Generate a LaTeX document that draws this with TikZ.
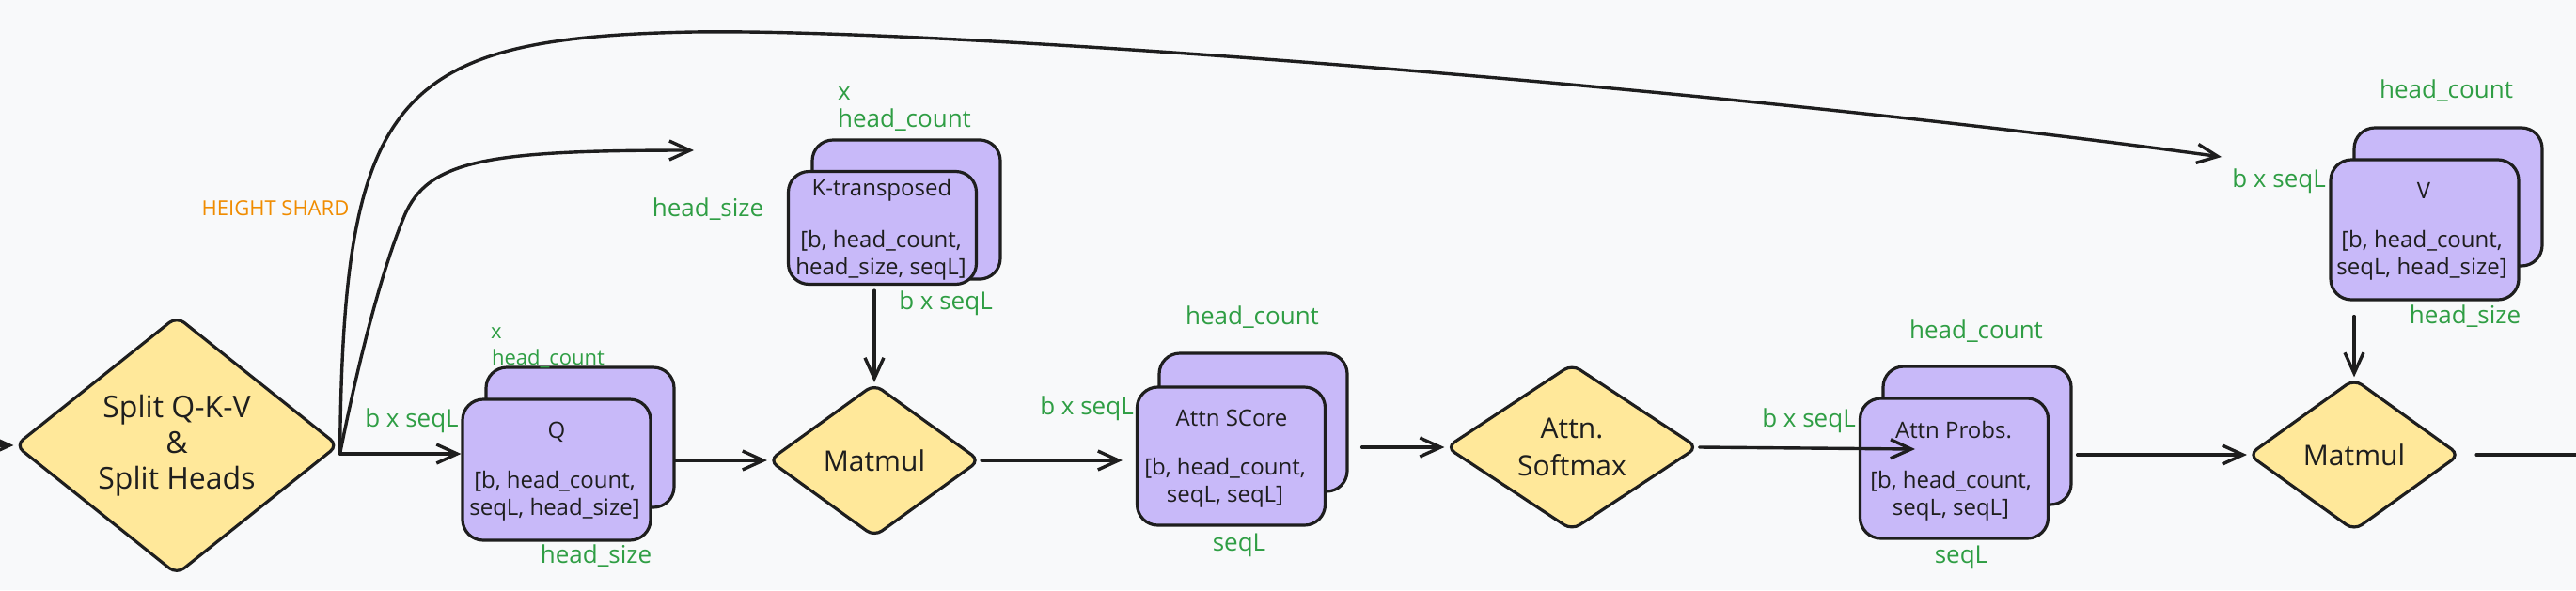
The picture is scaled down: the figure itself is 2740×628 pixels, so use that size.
\documentclass[tikz,border=0pt]{standalone}
\usepackage{fontspec}
\setmainfont{Open Sans}
\usetikzlibrary{shapes.geometric,arrows.meta}
\definecolor{bgc}{HTML}{F8F9FA}
\definecolor{dfill}{HTML}{FFE89A}
\definecolor{bfill}{HTML}{C8B9F9}
\definecolor{lgreen}{HTML}{2F9E44}
\definecolor{lorange}{HTML}{F08C00}
\definecolor{ink}{HTML}{1E1E1E}
\begin{document}
\begin{tikzpicture}[x=0.5pt,y=-0.5pt,
  decision/.style={diamond, draw=ink, fill=dfill, line width=1.6pt, inner sep=0pt,
    rounded corners=5pt, align=center, text=ink},
  backbox/.style={rectangle, draw=ink, fill=bfill, line width=1.6pt, rounded corners=11pt,
    inner sep=0pt, minimum width=100pt},
  frontbox/.style={backbox},
  boxtxt/.style={font=\fontsize{12}{14.5}\selectfont, align=center, text=ink, inner sep=0pt},
  gl/.style={font=\fontsize{13}{15}\selectfont, text=lgreen, inner sep=0pt},
  glsmall/.style={font=\fontsize{11}{13}\selectfont, text=lgreen, inner sep=0pt},
  arr/.style={draw=ink, line width=1.7pt, line cap=round,
    -{Straight Barb[length=11pt,width=10pt,line width=1.7pt]}},
  ln/.style={draw=ink, line width=1.7pt, line cap=round}
]
\useasboundingbox (0,0) rectangle (2740,628);
\fill[bgc] (0,0) rectangle (2740,628);

% decisions
\node[decision, minimum width=172pt, minimum height=120pt,
  font=\fontsize{16}{19}\selectfont] (split) at (188,474) {Split Q-K-V\\\&\\Split Heads};
\node[decision, minimum width=112.5pt, minimum height=81.5pt,
  font=\fontsize{15}{18}\selectfont] (m1) at (930,490) {Matmul};
\node[decision, minimum width=134pt, minimum height=81pt,
  font=\fontsize{15}{20}\selectfont] (soft) at (1672,476) {Attn.\\Softmax};
\node[decision, minimum width=112.5pt, minimum height=81pt,
  font=\fontsize{15}{18}\selectfont] (m2) at (2504,484) {Matmul};

% Q
\node[backbox, minimum height=74.5pt] (qback) at (617,465.5) {};
\node[frontbox, minimum height=75pt] (qfront) at (592,500) {};
\node[boxtxt] (qtitle) at (592,460) {Q};
\node[boxtxt] (qdims) at (590,527.5) {[b, head\_count,\\seqL, head\_size]};
\node[glsmall] (qx) at (528,355) {x};
\node[glsmall] (qhc) at (583,382) {head\_count};
\node[gl] (qhs) at (634,592) {head\_size};
\node[gl] (qbs) at (438,448) {b x seqL};

% K
\node[backbox, minimum height=74pt] (kback) at (964,223) {};
\node[frontbox, minimum height=60pt] (kfront) at (938.5,242.5) {};
\node[boxtxt] (ktitle) at (938,202) {K-transposed};
\node[boxtxt] (kdims) at (937,272) {[b, head\_count,\\head\_size, seqL]};
\node[gl] (kx) at (898,100) {x};
\node[gl] (khc) at (962,128) {head\_count};
\node[gl] (khs) at (753,223) {head\_size};
\node[gl] (kbs) at (1006,323) {b x seqL};

% Attn score
\node[backbox, minimum height=73.5pt] (sback) at (1333,449.5) {};
\node[frontbox, minimum height=73.5pt] (sfront) at (1309.5,485.5) {};
\node[boxtxt] (stitle) at (1310,445) {Attn SCore};
\node[boxtxt] (sdims) at (1303,513.5) {[b, head\_count,\\seqL, seqL]};
\node[gl] (shc) at (1332,338) {head\_count};
\node[gl] (sbs) at (1156,435) {b x seqL};
\node[gl] (ssq) at (1318,580) {seqL};

% Attn probs
\node[backbox, minimum height=73.5pt] (pback) at (2103,463.5) {};
\node[frontbox, minimum height=74.5pt] (pfront) at (2078.5,498.5) {};
\node[boxtxt] (ptitle) at (2078,458) {Attn Probs.};
\node[boxtxt] (pdims) at (2075,527.5) {[b, head\_count,\\seqL, seqL]};
\node[gl] (phc) at (2102,353) {head\_count};
\node[gl] (pbs) at (1924,448) {b x seqL};
\node[gl] (psq) at (2086,593) {seqL};

% V
\node[backbox, minimum height=73.5pt] (vback) at (2604,209.5) {};
\node[frontbox, minimum height=74.5pt] (vfront) at (2579,244.5) {};
\node[boxtxt] (vtitle) at (2578,203) {V};
\node[boxtxt] (vdims) at (2576,271.5) {[b, head\_count,\\seqL, head\_size]};
\node[gl] (vhc) at (2602,97) {head\_count};
\node[gl] (vbs) at (2424,193) {b x seqL};
\node[gl] (vhs) at (2622,337) {head\_size};

% shard label
\node[font=\fontsize{11}{13}\selectfont, text=lorange, inner sep=0pt] (shard) at (293,222) {HEIGHT SHARD};

% connectors
\coordinate (inl) at (0,474);
\draw[arr] (inl) -- (split.west);
\coordinate (sout) at ([yshift=-4.5pt]split.east);
\draw[arr] (sout) -- (sout -| qfront.west);
\coordinate (ktip) at (738,160);
\draw[arr] (sout) .. controls (380,390) and (405,290) .. (430,230)
  .. controls (455,170) and (520,160) .. (ktip);
\coordinate (vtip) at (2363,167);
\draw[arr] (sout) .. controls (365,100) and (420,40) .. (738,34)
  .. controls (1000,30) and (1800,90) .. (vtip);
\draw[arr] (qback.east |- m1.west) -- (m1.west);
\draw[arr, shorten <=2.5pt] (kfront.south -| m1.north) -- (m1.north);
\draw[arr, shorten >=7pt] (m1.east) -- (m1.east -| sfront.west);
\draw[arr, shorten <=7pt] (sback.east |- soft.west) -- (soft.west);
\coordinate (ptip) at (2037,478);
\draw[arr] (soft.east) -- (ptip);
\draw[arr, shorten <=2.5pt] (pback.east |- m2.west) -- (m2.west);
\draw[arr, shorten <=8pt] (vfront.south -| m2.north) -- (m2.north);
\coordinate (outr) at (2740,484);
\draw[ln, shorten <=8pt] (m2.east) -- (outr);
\end{tikzpicture}
\end{document}
